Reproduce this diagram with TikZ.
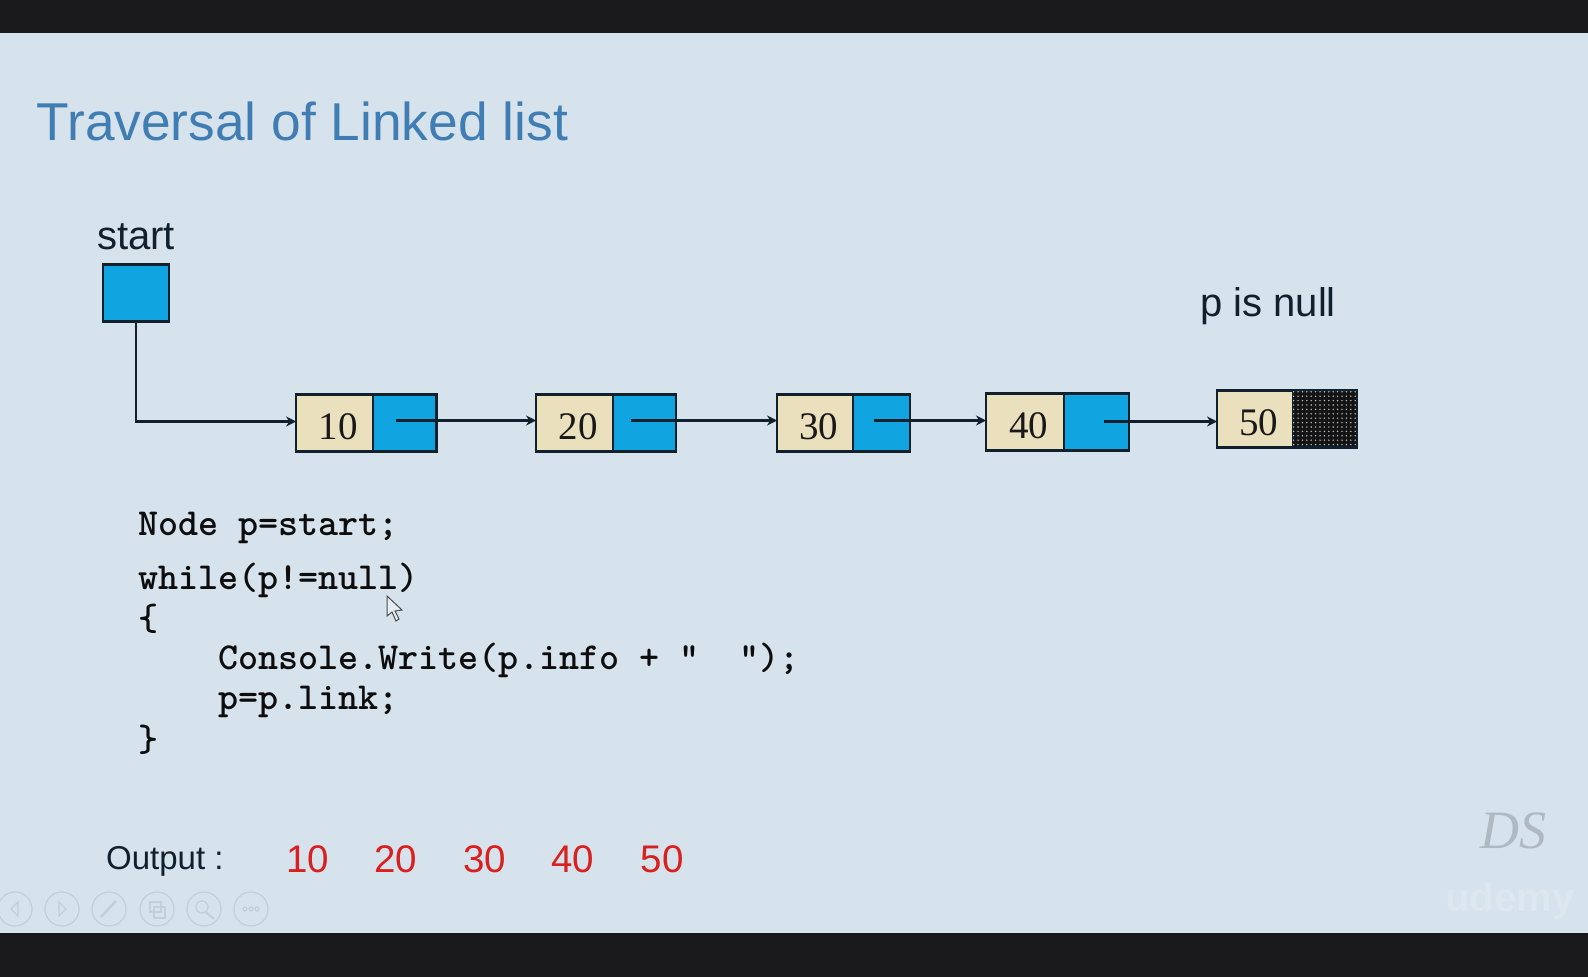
\documentclass[tikz,border=0pt]{standalone}
\usepackage{fontspec}
\setmainfont{Liberation Sans}
\newfontfamily\numfont{Liberation Serif}
\usetikzlibrary{positioning,patterns,arrows.meta}
\definecolor{slide}{HTML}{D6E2EC}
\definecolor{bar}{HTML}{1A1A1C}
\definecolor{titleblue}{HTML}{3F7DB3}
\definecolor{cellblue}{HTML}{10A5E0}
\definecolor{cellcream}{HTML}{EBE0BE}
\definecolor{edge}{HTML}{10202C}
\definecolor{outred}{HTML}{D9201F}
\definecolor{faint}{HTML}{C3CED8}
\newcommand{\fs}[1]{\fontsize{#1}{#1}\selectfont}
\pgfdeclarepatternformonly{nulldots}{\pgfqpoint{-1pt}{-1pt}}{\pgfqpoint{1pt}{1pt}}{\pgfqpoint{4.4pt}{4.4pt}}{%
    \pgfpathcircle{\pgfqpoint{0pt}{0pt}}{0.8pt}\pgfusepath{fill}}
\tikzset{
    infocell/.style={draw=edge,line width=2.4pt,fill=cellcream,inner sep=0pt,outer sep=0pt,
        minimum height=57pt,text height=33pt,text depth=0pt,font=\numfont\fs{39},text=black!90,
        execute at begin node=\hspace*{7pt}},
    linkcell/.style={draw=edge,line width=2.4pt,fill=cellblue,inner sep=0pt,outer sep=0pt,minimum height=57pt},
    nullcell/.style={linkcell,fill=black!92,postaction={pattern=nulldots,pattern color=white!75!black}},
    linkarrow/.style={draw=edge,line width=2.2pt,-{Stealth[length=10pt,width=10pt]}},
    sanstext/.style={anchor=base west,inner sep=0pt,text=edge,font=\fs{40}},
    codetext/.style={anchor=base west,inner sep=0pt,text=black!95,font=\ttfamily\bfseries\fs{38.2}},
    outnum/.style={anchor=base,inner sep=0pt,text=outred,font=\fs{38.5}},
    toolicon/.style={draw=faint,line width=1.2pt,fill=none}
}
\begin{document}
\begin{tikzpicture}[x=1pt,y=-1pt]
    \useasboundingbox (0,0) rectangle (1588,977);
    \fill[slide] (0,0) rectangle (1588,977);
    \fill[bar] (0,0) rectangle (1588,33);
    \fill[bar] (0,933) rectangle (1588,977);

    \node[anchor=base west,inner sep=0pt,text=titleblue,font=\fs{53.3}] (title) at (36.5,140) {Traversal of Linked list};

    \node[sanstext] (startlabel) at (97,249) {start};
    \node[linkcell,minimum width=66pt,anchor=north west] (s) at (103,264.5) {};
    \node[sanstext] (pnull) at (1200,316) {p is null};

    % list nodes
    \node[infocell,minimum width=77pt,anchor=north west] (i10) at (296,394.5) {10};
    \node[linkcell,minimum width=63.5pt,right=0pt of i10] (l10) {};
    \node[infocell,minimum width=77pt,anchor=north west] (i20) at (536,394.5) {20};
    \node[linkcell,minimum width=63pt,right=0pt of i20] (l20) {};
    \node[infocell,minimum width=76pt,anchor=north west] (i30) at (777,394.5) {30};
    \node[linkcell,minimum width=57pt,right=0pt of i30] (l30) {};
    \node[infocell,minimum width=78pt,anchor=north west] (i40) at (986,393.5) {40};
    \node[linkcell,minimum width=65pt,right=0pt of i40] (l40) {};
    \node[infocell,minimum width=76pt,anchor=north west] (i50) at (1217,390.5) {50};
    \node[nullcell,minimum width=64pt,right=0pt of i50] (l50) {};

    \coordinate (t10) at (396,420.5);
    \coordinate (t20) at (631,420.5);
    \coordinate (t30) at (874,420.5);
    \coordinate (t40) at (1104,421.5);
    \draw[linkarrow] (s.south) |- (i10.west |- 0,421.5);
    \draw[linkarrow] (t10) -- (t10 -| i20.west);
    \draw[linkarrow] (t20) -- (t20 -| i30.west);
    \draw[linkarrow] (t30) -- (t30 -| i40.west);
    \draw[linkarrow] (t40) -- (t40 -| i50.west);

    % code
    \node[codetext] (c1) at (138,535) {Node p=start;};
    \node[codetext] (c2) at (138,589) {while(p!=null)};
    \node[codetext] (c3) at (138,630) {\{};
    \node[codetext] (c4) at (218,669) {Console.Write(p.info + "~~");};
    \node[codetext] (c5) at (218,709) {p=p.link;};
    \node[codetext] (c6) at (138,751) {\}};

    % mouse pointer
    \draw[fill=white!40!slide,draw=black!70,line width=1pt] (387,596) -- (387,616) -- (392,612) -- (396,621) -- (399,619) -- (395,611) -- (402,610) -- cycle;

    % output
    \node[sanstext,font=\fs{33}] (out) at (106,869) {Output :};
    \foreach \val/\xpos in {10/308,20/396,30/485,40/573,50/662}
        \node[outnum] (o\val) at (\xpos,872) {\val};

    % watermark
    \node[anchor=base,inner sep=0pt,text=black!18!slide,font=\numfont\itshape\fs{54}] (ds) at (1513,848) {DS};
    \node[anchor=base,inner sep=0pt,text=white!18!slide,font=\bfseries\fs{40}] (udemy) at (1510,911) {udemy};

    % toolbar
    \foreach \xpos/\name in {15/a,62/b,109/c,157/d,204/e,251/f}
        \node[toolicon,circle,minimum size=34pt,inner sep=0pt] (tb\name) at (\xpos,909) {};
    \draw[toolicon] (18,902) -- (11,909) -- (18,916) -- cycle;
    \draw[toolicon] (59,902) -- (66,909) -- (59,916) -- cycle;
    \draw[toolicon,line width=2.5pt] (101,917) -- (116,901);
    \draw[toolicon] (150,902) rectangle (161,912);
    \draw[toolicon] (154,907) rectangle (165,918);
    \draw[toolicon] (202,907) circle (6pt);
    \draw[toolicon,line width=2pt] (206,912) -- (214,919);
    \foreach \xpos in {245,251,257}
        \draw[toolicon] (\xpos,909) circle (2pt);
\end{tikzpicture}
\end{document}
